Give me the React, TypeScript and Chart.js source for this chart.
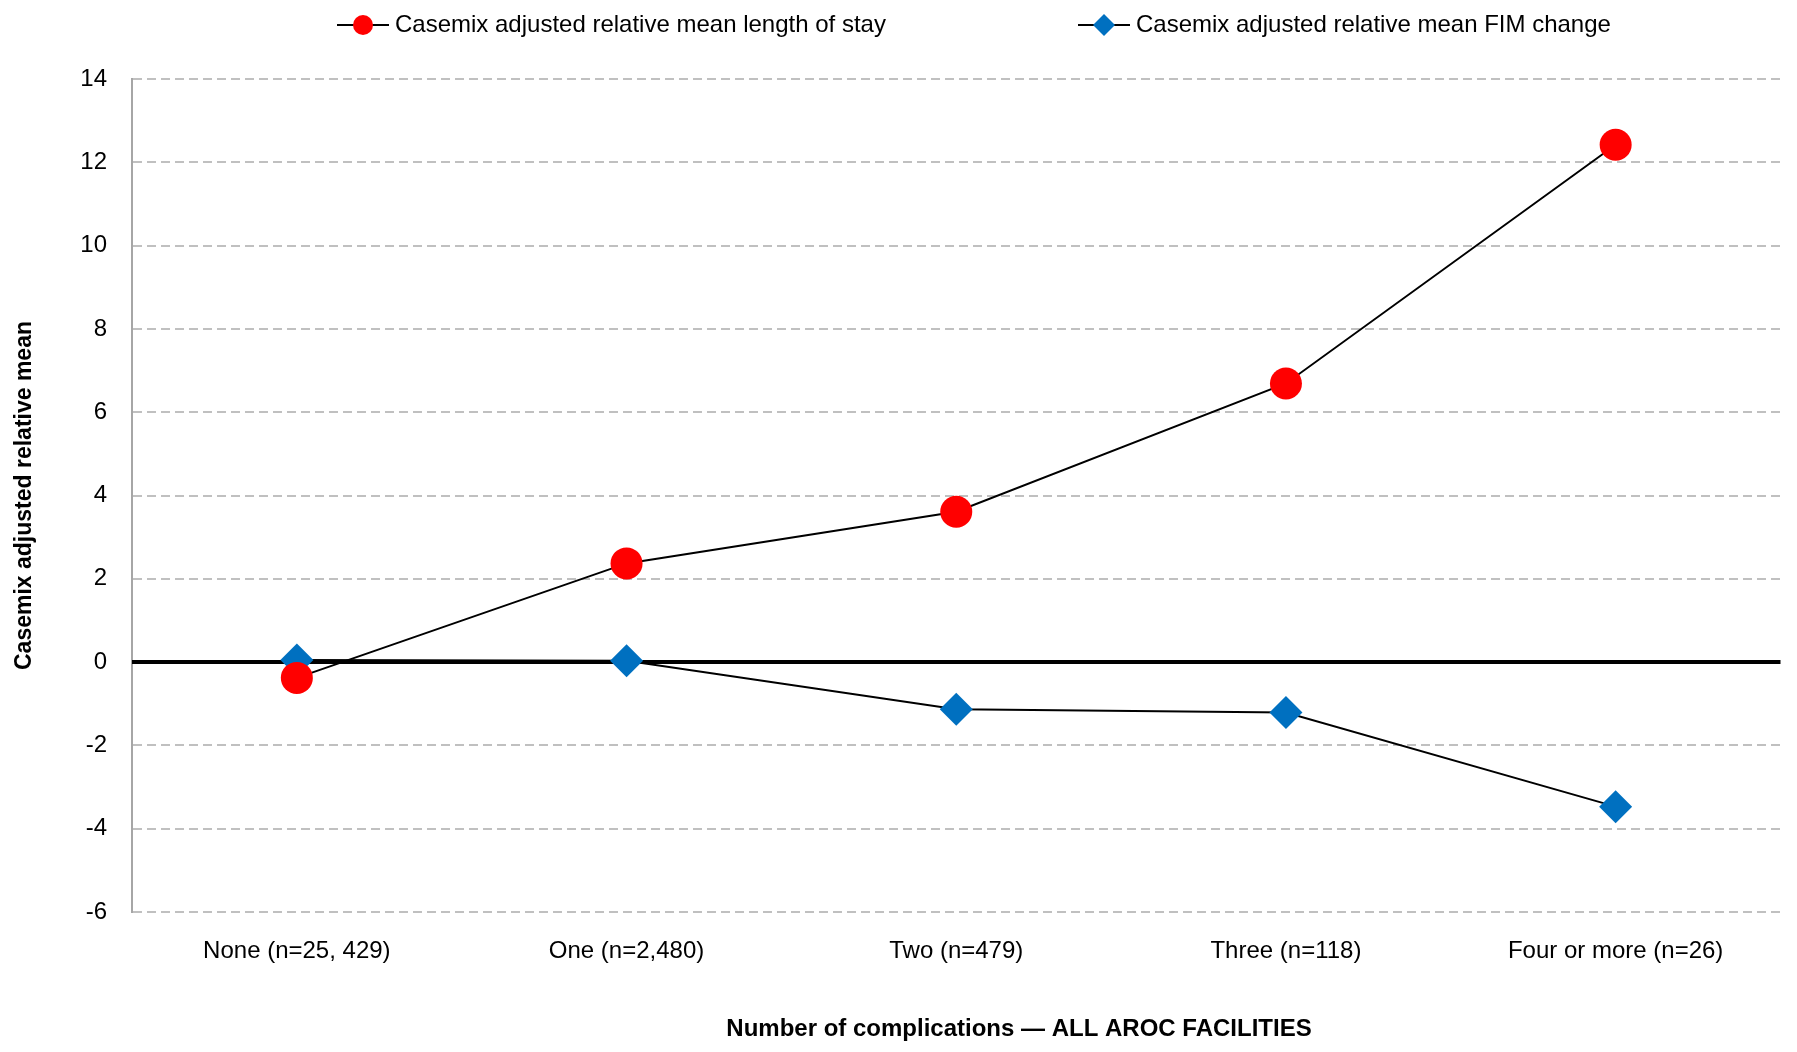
import React, { useEffect, useRef } from 'react';
import { Chart, registerables } from 'chart.js';

Chart.register(...registerables);

const categories = ['None (n=25, 429)', 'One (n=2,480)', 'Two (n=479)', 'Three (n=118)', 'Four or more (n=26)'];
const losLabel = 'Casemix adjusted relative mean length of stay';
const losValues = [-0.38, 2.37, 3.61, 6.69, 12.42];
const fimLabel = 'Casemix adjusted relative mean FIM change';
const fimValues = [0.05, 0.03, -1.13, -1.21, -3.47];
const yMin = -6;
const yMax = 14;
const yStep = 2;
const yTitle = 'Casemix adjusted relative mean';
const xTitle = 'Number of complications — ALL AROC FACILITIES';

const FONT = '"Liberation Sans", Arial, sans-serif';

const overlayPlugin = {
  id: 'overlay',
  beforeDatasetsDraw(chart: any) {
    const { ctx, chartArea, scales } = chart;
    const py = scales.y.getPixelForValue(0);
    ctx.save();
    ctx.strokeStyle = '#000';
    ctx.lineWidth = 4;
    ctx.beginPath();
    ctx.moveTo(chartArea.left, py);
    ctx.lineTo(chartArea.right, py);
    ctx.stroke();
    ctx.restore();
  },
  afterDraw(chart: any) {
    const { ctx } = chart;
    ctx.save();
    // legend
    const starts = [337, 1078];
    const ly = 25;
    chart.data.datasets.forEach((ds: any, i: number) => {
      const x0 = starts[i];
      ctx.strokeStyle = '#000';
      ctx.lineWidth = 2;
      ctx.beginPath();
      ctx.moveTo(x0, ly);
      ctx.lineTo(x0 + 52, ly);
      ctx.stroke();
      const cx = x0 + 26;
      ctx.fillStyle = ds.pointBackgroundColor;
      ctx.beginPath();
      if (ds.pointStyle === 'rectRot') {
        const r = 11;
        ctx.moveTo(cx, ly - r);
        ctx.lineTo(cx + r, ly);
        ctx.lineTo(cx, ly + r);
        ctx.lineTo(cx - r, ly);
        ctx.closePath();
      } else {
        ctx.arc(cx, ly, 10, 0, Math.PI * 2);
      }
      ctx.fill();
      ctx.fillStyle = '#000';
      ctx.font = `24px ${FONT}`;
      ctx.textBaseline = 'middle';
      ctx.textAlign = 'left';
      ctx.fillText(ds.label, x0 + 58, ly);
    });
    // x title
    ctx.font = `bold 24px ${FONT}`;
    ctx.textAlign = 'center';
    ctx.textBaseline = 'middle';
    ctx.fillStyle = '#000';
    ctx.fillText(xTitle, 1019, 1029);
    ctx.restore();
  },
};

export default function App() {
  const ref = useRef<HTMLCanvasElement>(null);
  useEffect(() => {
    if (!ref.current) return;
    const chart = new Chart(ref.current, {
      type: 'line',
      data: {
        labels: categories,
        datasets: [
          {
            label: losLabel,
            data: losValues,
            borderColor: '#000',
            borderWidth: 2,
            pointStyle: 'circle',
            pointRadius: 16,
            pointHoverRadius: 16,
            pointBackgroundColor: '#ff0000',
            pointBorderColor: '#ff0000',
            pointBorderWidth: 0,
            tension: 0,
          },
          {
            label: fimLabel,
            data: fimValues,
            borderColor: '#000',
            borderWidth: 2,
            pointStyle: 'rectRot',
            pointRadius: 16.5,
            pointHoverRadius: 16.5,
            pointBackgroundColor: '#0070c0',
            pointBorderColor: '#0070c0',
            pointBorderWidth: 0,
            tension: 0,
          },
        ],
      },
      options: {
        animation: false,
        responsive: true,
        maintainAspectRatio: false,
        layout: { padding: { top: 79, right: 12, left: 0, bottom: 0 } },
        plugins: { legend: { display: false }, tooltip: { enabled: false } },
        scales: {
          x: {
            offset: true,
            grid: { display: false, drawTicks: false },
            border: { display: false },
            ticks: { color: '#000', font: { family: FONT, size: 24 }, padding: 25, maxRotation: 0, autoSkip: false },
            afterFit: (s: any) => { s.height = 140; s.paddingLeft = 0; s.paddingRight = 0; },
          },
          y: {
            min: yMin,
            max: yMax,
            ticks: { stepSize: yStep, color: '#000', font: { family: FONT, size: 24 }, padding: 25 },
            grid: {
              drawTicks: false,
              lineWidth: 2,
              color: (c: any) => (c.tick && c.tick.value === 0 ? 'rgba(0,0,0,0)' : '#c0c0c0'),
            },
            border: { display: true, color: '#a6a6a6', width: 2, dash: [9, 5] },
            title: { display: true, text: yTitle, color: '#000', font: { family: FONT, size: 23, weight: 'bold' }, padding: { top: 11, bottom: 0 } },
            afterFit: (s: any) => { s.width = 132; },
          },
        },
      },
      plugins: [overlayPlugin],
    });
    return () => chart.destroy();
  }, []);
  return (
    <div style={{ position: 'fixed', left: 0, top: 0, width: 1797, height: 1052, background: '#fff' }}>
      <canvas ref={ref} />
    </div>
  );
}
